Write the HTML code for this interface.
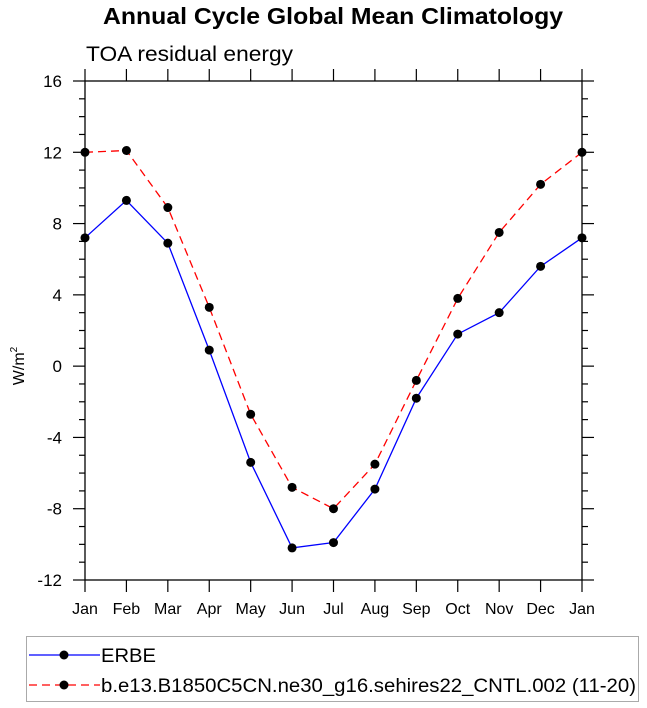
<!DOCTYPE html>
<html><head><meta charset="utf-8"><style>
html,body{margin:0;padding:0;background:#fff}
svg{display:block;font-family:"Liberation Sans",Arial,sans-serif}
</style></head><body>
<svg id="chart" width="647" height="708" viewBox="0 0 647 708">
<text x="333" y="24" text-anchor="middle" font-size="23" font-weight="bold" textLength="460" lengthAdjust="spacingAndGlyphs">Annual Cycle Global Mean Climatology</text>
<text x="86" y="61" font-size="21" textLength="207" lengthAdjust="spacingAndGlyphs">TOA residual energy</text>
<text transform="translate(24,366) rotate(-90)" text-anchor="middle" font-size="16">W/m<tspan font-size="10" dy="-7">2</tspan></text>
<g id="axes"></g>
<g id="series"></g>
<g>
<rect x="26.5" y="636.5" width="612" height="65" fill="none" stroke="#aaa" stroke-width="1"/>
<g>
<line x1="29" y1="655" x2="100" y2="655" stroke="#0000ff" stroke-width="1.3"/>
<circle cx="64" cy="655" r="4.5" fill="#000"/>
<text x="101" y="662" font-size="19" textLength="55" lengthAdjust="spacingAndGlyphs">ERBE</text></g>
<g>
<line x1="29" y1="685" x2="100" y2="685" stroke="#ff0000" stroke-width="1.3" stroke-dasharray="8,5"/>
<circle cx="64" cy="685" r="4.5" fill="#000"/>
<text x="101" y="692" font-size="19" textLength="535" lengthAdjust="spacingAndGlyphs">b.e13.B1850C5CN.ne30_g16.sehires22_CNTL.002 (11-20)</text></g>
</g>
</svg>
<script>
const months = ["Jan","Feb","Mar","Apr","May","Jun","Jul","Aug","Sep","Oct","Nov","Dec","Jan"];
const erbe = [7.2,9.3,6.9,0.9,-5.4,-10.2,-9.9,-6.9,-1.8,1.8,3.0,5.6,7.2];
const model = [12.0,12.1,8.9,3.3,-2.7,-6.8,-8.0,-5.5,-0.8,3.8,7.5,10.2,12.0];
const yTicks = [-12,-8,-4,0,4,8,12,16];
const L=85,R=582,T=81,B=580,ymin=-12,ymax=16;
const sx=i=>L+(R-L)*i/(months.length-1);
const sy=v=>B-(B-T)*(v-ymin)/(ymax-ymin);
const NS="http://www.w3.org/2000/svg";
function mk(tag,attrs,parent){const e=document.createElementNS(NS,tag);for(const k in attrs)e.setAttribute(k,attrs[k]);parent.appendChild(e);return e;}
const ax=document.getElementById('axes');
const frame=mk('rect',{x:L,y:T,width:R-L,height:B-T,fill:'none',stroke:'#000','stroke-width':1.3},ax);


months.forEach((m,i)=>{
  const x=sx(i);
  mk('line',{x1:x,y1:B,x2:x,y2:B+12,stroke:'#000','stroke-width':1.2},ax);
  mk('line',{x1:x,y1:T,x2:x,y2:T-12,stroke:'#000','stroke-width':1.2},ax);
  const t=mk('text',{x:x,y:614,'text-anchor':'middle','font-size':16},ax);
  t.textContent=m;
  
  
});
for(let v=ymin;v<=ymax;v++){
  const y=sy(v), major=(v%4===0), len=major?12:6;
  mk('line',{x1:L,y1:y,x2:L-len,y2:y,stroke:'#000','stroke-width':1.2},ax);
  mk('line',{x1:R,y1:y,x2:R+len,y2:y,stroke:'#000','stroke-width':1.2},ax);
}
yTicks.forEach(v=>{
  const t=mk('text',{x:62,y:sy(v)+6,'text-anchor':'end','font-size':17},ax);
  t.textContent=v;
  
  
});
const sg=document.getElementById('series');
function draw(vals,color,dash,name){
  const g=mk('g',{},sg);
  
  
  const pts=vals.map((v,i)=>sx(i)+','+sy(v)).join(' ');
  const pl=mk('polyline',{points:pts,fill:'none',stroke:color,'stroke-width':1.3},g);
  if(dash)pl.setAttribute('stroke-dasharray',dash);
  
  
  vals.forEach((v,i)=>{
    const c=mk('circle',{cx:sx(i),cy:sy(v),r:4.5,fill:'#000'},g);
    
    
  });
}
draw(model,'#ff0000','8,5','model-series');
draw(erbe,'#0000ff',null,'erbe-series');
</script>
</body></html>
